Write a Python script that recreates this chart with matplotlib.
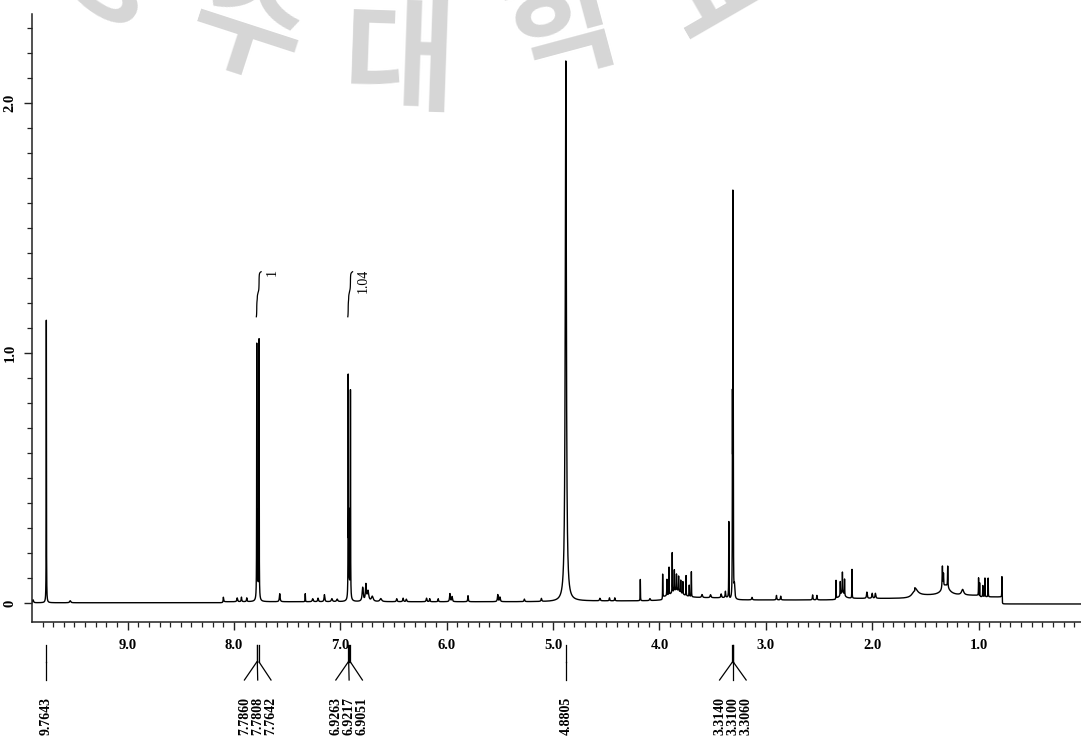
import numpy as np
import matplotlib.pyplot as plt
from matplotlib.ticker import MultipleLocator

W, H = 1081, 736

# ---------------- peaks: (ppm, height, half width in ppm) -------------
aromatic_peaks = [
    (9.89, 0.012, 0.005), (9.7643, 1.13, 0.0012), (9.54, 0.008, 0.006),
    (8.10, 0.018, 0.003), (7.97, 0.015, 0.004), (7.93, 0.018, 0.003), (7.88, 0.015, 0.003),
    (7.7860, 1.00, 0.0012), (7.7808, 0.28, 0.0012), (7.7642, 1.03, 0.0012), (7.775, 0.05, 0.008),
    (7.57, 0.032, 0.004), (7.33, 0.032, 0.0015), (7.26, 0.012, 0.005), (7.21, 0.014, 0.004),
    (7.15, 0.028, 0.004), (7.08, 0.012, 0.006), (7.03, 0.010, 0.006),
    (6.9263, 0.87, 0.0012), (6.9217, 0.28, 0.0012), (6.9051, 0.82, 0.0012), (6.915, 0.06, 0.008),
    (6.79, 0.055, 0.006), (6.76, 0.065, 0.005), (6.74, 0.04, 0.008), (6.70, 0.02, 0.01),
    (6.62, 0.012, 0.01), (6.47, 0.012, 0.004), (6.41, 0.014, 0.004), (6.38, 0.010, 0.004),
    (6.19, 0.014, 0.004), (6.16, 0.012, 0.003), (6.08, 0.012, 0.003), (5.97, 0.032, 0.004),
    (5.95, 0.020, 0.004), (5.80, 0.024, 0.003), (5.52, 0.028, 0.004), (5.50, 0.018, 0.004),
    (5.27, 0.010, 0.004), (5.11, 0.012, 0.004),
]

water_peaks = [(4.8805, 2.16, 0.006)]

aliphatic_peaks = [
    (4.56, 0.010, 0.004), (4.47, 0.012, 0.003), (4.42, 0.012, 0.003), (4.18, 0.085, 0.0012),
    (4.09, 0.008, 0.004), (3.97, 0.090, 0.0012), (3.93, 0.065, 0.0015), (3.91, 0.11, 0.0012),
    (3.88, 0.16, 0.0012), (3.86, 0.085, 0.0015), (3.84, 0.065, 0.0015), (3.82, 0.06, 0.0015),
    (3.80, 0.05, 0.0015), (3.78, 0.05, 0.0015), (3.75, 0.08, 0.0012), (3.72, 0.045, 0.0015),
    (3.70, 0.10, 0.0012), (3.84, 0.03, 0.06),
    (3.60, 0.012, 0.005), (3.52, 0.012, 0.005), (3.42, 0.015, 0.004), (3.38, 0.025, 0.003),
    (3.348, 0.31, 0.0012), (3.3140, 0.70, 0.0012), (3.3100, 1.52, 0.0012), (3.3060, 0.70, 0.0012),
    (3.295, 0.05, 0.004), (3.13, 0.010, 0.004), (2.90, 0.018, 0.003), (2.86, 0.015, 0.003),
    (2.56, 0.020, 0.003), (2.52, 0.018, 0.003), (2.34, 0.07, 0.0012), (2.30, 0.055, 0.0015),
    (2.28, 0.08, 0.0012), (2.26, 0.065, 0.0015), (2.28, 0.025, 0.02), (2.19, 0.115, 0.0012),
    (2.05, 0.025, 0.004), (2.00, 0.020, 0.004), (1.97, 0.020, 0.004), (1.60, 0.03, 0.03),
    (1.34, 0.09, 0.003), (1.33, 0.05, 0.002), (1.29, 0.085, 0.002), (1.31, 0.04, 0.04),
    (1.15, 0.022, 0.012), (1.00, 0.075, 0.0012), (0.99, 0.055, 0.0012), (0.96, 0.045, 0.0015),
    (0.94, 0.075, 0.0012), (0.91, 0.075, 0.0012), (0.78, 0.09, 0.0012),
]

# baseline level between shifts (upper edge of each stretch)
base_edges = [9.95, 8.10, 4.8805, 3.97, 3.348, 2.34, 1.60, 1.00, 0.78]
base_levels = [0.001, 0.005, 0.008, 0.020, 0.012, 0.018, 0.030, 0.024, -0.004]

# picked peaks under the axis
pick_groups = [[9.7643], [7.7860, 7.7808, 7.7642], [6.9263, 6.9217, 6.9051],
               [4.8805], [3.3140, 3.3100, 3.3060]]

# integrals
int_regions = [(7.79, 7.745), (6.93, 6.885)]
int_labels = ['1', '1.04']

xtick_vals = [1, 2, 3, 4, 5, 6, 7, 8, 9]
xtick_labels = ['1.0', '2.0', '3.0', '4.0', '5.0', '6.0', '7.0', '8.0', '9.0']
ytick_vals = [0, 1, 2]
ytick_labels = ['0', '1.0', '2.0']

# watermark
wm_chars = ['청', '주', '대', '학', '교']
wm_x = [112, 248, 400, 565, 718]
wm_y = [-28, 30, 64, 28, -16]
wm_rot = [-35, -18, -2, 15, 30]


# ---------------- build spectrum ----------------
all_peaks = aromatic_peaks + water_peaks + aliphatic_peaks
centers = np.array([p[0] for p in all_peaks])
heights = np.array([p[1] for p in all_peaks])
widths = np.array([p[2] for p in all_peaks])

ppm = np.arange(9.95, -0.05, -0.0004)
ppm = np.sort(np.concatenate([ppm, centers]))[::-1]

spec = np.zeros_like(ppm)
for i in range(len(base_edges)):
    lo = base_edges[i + 1] if i + 1 < len(base_edges) else -1.0
    spec[(ppm <= base_edges[i]) & (ppm > lo)] = base_levels[i]
for c, h, w in zip(centers, heights, widths):
    spec += h / (1 + ((ppm - c) / w) ** 2)


# ---------------- plot ----------------
fig = plt.figure(figsize=(W / 100, H / 100), dpi=100)
serif = 'Liberation Serif'

for ch, x, y, r in zip(wm_chars, wm_x, wm_y, wm_rot):
    fig.text(x / W, 1 - y / H, ch, fontsize=88, fontweight='bold', color='#d6d6d6',
             family=['Noto Sans CJK KR', 'DejaVu Sans'], rotation=r,
             ha='center', va='center', zorder=0)

ax = fig.add_axes([32 / W, 114 / H, 1 - 32 / W, 608 / H])
ax.patch.set_alpha(0)
ax.plot(ppm, spec, color='black', lw=1.0)
ax.set_xlim(9.899, 0.037)
ax.set_ylim(-0.076, 2.356)

for s in ['top', 'right']:
    ax.spines[s].set_visible(False)
for s in ['left', 'bottom']:
    ax.spines[s].set_linewidth(1.1)
    ax.spines[s].set_color('#222222')

ax.set_xticks(xtick_vals, xtick_labels)
ax.xaxis.set_minor_locator(MultipleLocator(0.1))
ax.set_yticks(ytick_vals, ytick_labels)
ax.yaxis.set_minor_locator(MultipleLocator(0.1))
ax.tick_params(which='major', direction='out', length=6, width=1, color='#222222')
ax.tick_params(which='minor', direction='out', length=3.5, width=0.9, color='#222222')
ax.tick_params(axis='x', pad=6)
ax.tick_params(axis='y', pad=5, labelrotation=90)
for lab in ax.get_xticklabels() + ax.get_yticklabels():
    lab.set_family(serif)
    lab.set_fontweight('bold')
    lab.set_fontsize(10.5)
for lab in ax.get_yticklabels():
    lab.set_va('center')

# integral curves
for (hi, lo), txt in zip(int_regions, int_labels):
    m = (ppm <= hi) & (ppm >= lo)
    cum = np.cumsum(spec[m])
    cum = (cum - cum[0]) / (cum[-1] - cum[0])
    ax.plot(ppm[m], 1.145 + 0.18 * cum, color='black', lw=0.9)
    ax.text(lo - 0.1, 1.335, txt, rotation=90, ha='center', va='top',
            fontsize=10, family=serif)

# peak picking marks under the axis
tr = ax.get_xaxis_transform()
y_top, y_mid, y_end, y_txt = -0.0378, -0.0658, -0.0954, -0.1234
step = 0.125
for grp in pick_groups:
    mid = np.mean(grp)
    n = len(grp)
    for k, p in enumerate(grp):
        xl = mid + (n - 1) / 2 * step - k * step
        ax.plot([p, p], [y_top, y_mid], color='black', lw=0.9, transform=tr, clip_on=False)
        ax.plot([p, xl], [y_mid, y_end], color='black', lw=0.9, transform=tr, clip_on=False)
        ax.text(xl, y_txt, f'{p:.4f}', rotation=90, ha='center', va='top',
                fontsize=10, fontweight='bold', family=serif, transform=tr)

fig.savefig('out.png', dpi=100)
